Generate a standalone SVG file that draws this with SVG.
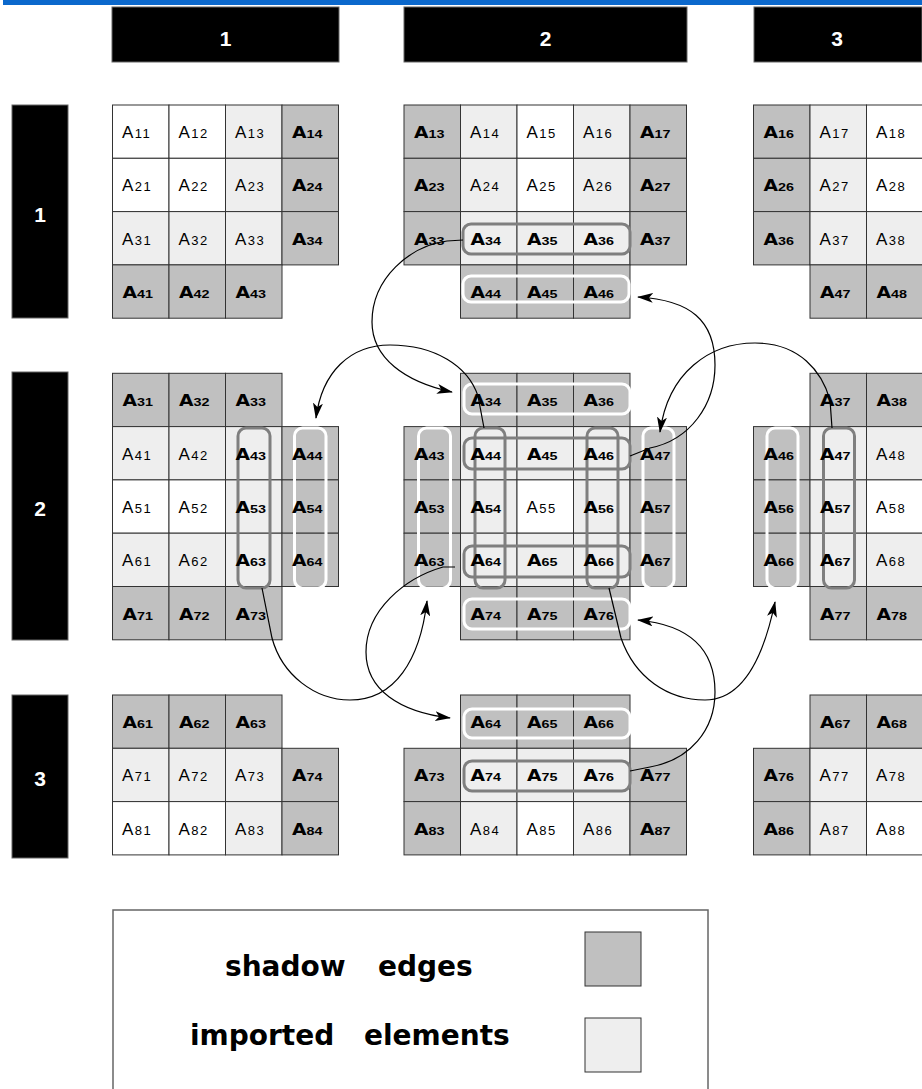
<svg xmlns="http://www.w3.org/2000/svg" width="922" height="1089" viewBox="0 0 922 1089">
<style>
.c{stroke:#333;stroke-width:1}
.d{fill:#c0c0c0}
.l{fill:#eeeeee}
.w{fill:#ffffff}
.t{font-family:"Liberation Sans",Arial,sans-serif;font-size:17px;letter-spacing:1.5px;fill:#000}
.t tspan{font-size:13px}
.b{font-family:"DejaVu Sans",sans-serif;font-weight:bold;font-size:15px;fill:#000}
.b tspan{font-family:"Liberation Sans",Arial,sans-serif;font-size:11.5px;font-weight:bold}
.rr{fill:none;stroke-width:3}
.g{stroke:#7f7f7f}
.wh{stroke:#ffffff}
.hdr{fill:#000;stroke:#666;stroke-width:1}
.hl{font-family:"Liberation Sans",Arial,sans-serif;font-weight:bold;font-size:21px;fill:#fff;text-anchor:middle}
.conn path{fill:none;stroke:#000;stroke-width:1.2;marker-end:url(#ah)}
.lg{font-family:"DejaVu Sans",sans-serif;font-weight:bold;font-size:28px;fill:#000}
</style>
<defs>
<marker id="ah" viewBox="0 0 16 10" refX="15" refY="5" markerWidth="16" markerHeight="10" orient="auto" markerUnits="userSpaceOnUse">
<path d="M0,0 L16,5 L0,10 L4,5 z" fill="#000"/>
</marker>
</defs>
<rect x="3" y="0" width="919" height="5" fill="#0b68cc"/>
<g id="col-headers">
<rect class="hdr" x="112" y="7" width="227" height="55"/><text class="hl" x="225.5" y="46">1</text>
<rect class="hdr" x="404" y="7" width="283" height="55"/><text class="hl" x="545.5" y="46">2</text>
<rect class="hdr" x="754" y="7" width="168" height="55"/><text class="hl" x="837" y="46">3</text>
</g>
<g id="row-headers">
<rect class="hdr" x="12" y="105" width="56" height="213"/><text class="hl" x="40" y="222">1</text>
<rect class="hdr" x="12" y="372" width="56" height="268"/><text class="hl" x="40" y="516">2</text>
<rect class="hdr" x="12" y="695" width="56" height="163"/><text class="hl" x="40" y="786">3</text>
</g>

<g id="block-1-1">
<rect class="c w" x="112.5" y="105" width="56.5" height="53.3"/>
<rect class="c w" x="169" y="105" width="56.5" height="53.3"/>
<rect class="c l" x="225.5" y="105" width="56.5" height="53.3"/>
<rect class="c d" x="282" y="105" width="56.5" height="53.3"/>
<rect class="c w" x="112.5" y="158.3" width="56.5" height="53.3"/>
<rect class="c w" x="169" y="158.3" width="56.5" height="53.3"/>
<rect class="c l" x="225.5" y="158.3" width="56.5" height="53.3"/>
<rect class="c d" x="282" y="158.3" width="56.5" height="53.3"/>
<rect class="c l" x="112.5" y="211.6" width="56.5" height="53.3"/>
<rect class="c l" x="169" y="211.6" width="56.5" height="53.3"/>
<rect class="c l" x="225.5" y="211.6" width="56.5" height="53.3"/>
<rect class="c d" x="282" y="211.6" width="56.5" height="53.3"/>
<rect class="c d" x="112.5" y="264.9" width="56.5" height="53.3"/>
<rect class="c d" x="169" y="264.9" width="56.5" height="53.3"/>
<rect class="c d" x="225.5" y="264.9" width="56.5" height="53.3"/>
<text class="t" x="122" y="138">A<tspan>11</tspan></text>
<text class="t" x="178.5" y="138">A<tspan>12</tspan></text>
<text class="t" x="235" y="138">A<tspan>13</tspan></text>
<text class="b" transform="translate(292 138) scale(1.25 1)">A<tspan>14</tspan></text>
<text class="t" x="122" y="191.3">A<tspan>21</tspan></text>
<text class="t" x="178.5" y="191.3">A<tspan>22</tspan></text>
<text class="t" x="235" y="191.3">A<tspan>23</tspan></text>
<text class="b" transform="translate(292 191.3) scale(1.25 1)">A<tspan>24</tspan></text>
<text class="t" x="122" y="244.6">A<tspan>31</tspan></text>
<text class="t" x="178.5" y="244.6">A<tspan>32</tspan></text>
<text class="t" x="235" y="244.6">A<tspan>33</tspan></text>
<text class="b" transform="translate(292 244.6) scale(1.25 1)">A<tspan>34</tspan></text>
<text class="b" transform="translate(122.5 297.9) scale(1.25 1)">A<tspan>41</tspan></text>
<text class="b" transform="translate(179 297.9) scale(1.25 1)">A<tspan>42</tspan></text>
<text class="b" transform="translate(235.5 297.9) scale(1.25 1)">A<tspan>43</tspan></text>
</g>

<g id="block-1-2">
<rect class="c d" x="404" y="105" width="56.5" height="53.3"/>
<rect class="c l" x="460.5" y="105" width="56.5" height="53.3"/>
<rect class="c w" x="517" y="105" width="56.5" height="53.3"/>
<rect class="c l" x="573.5" y="105" width="56.5" height="53.3"/>
<rect class="c d" x="630" y="105" width="56.5" height="53.3"/>
<rect class="c d" x="404" y="158.3" width="56.5" height="53.3"/>
<rect class="c l" x="460.5" y="158.3" width="56.5" height="53.3"/>
<rect class="c w" x="517" y="158.3" width="56.5" height="53.3"/>
<rect class="c l" x="573.5" y="158.3" width="56.5" height="53.3"/>
<rect class="c d" x="630" y="158.3" width="56.5" height="53.3"/>
<rect class="c d" x="404" y="211.6" width="56.5" height="53.3"/>
<rect class="c l" x="460.5" y="211.6" width="56.5" height="53.3"/>
<rect class="c l" x="517" y="211.6" width="56.5" height="53.3"/>
<rect class="c l" x="573.5" y="211.6" width="56.5" height="53.3"/>
<rect class="c d" x="630" y="211.6" width="56.5" height="53.3"/>
<rect class="c d" x="460.5" y="264.9" width="56.5" height="53.3"/>
<rect class="c d" x="517" y="264.9" width="56.5" height="53.3"/>
<rect class="c d" x="573.5" y="264.9" width="56.5" height="53.3"/>
<rect class="rr g" x="463" y="224" width="167" height="30" rx="8"/>
<rect class="rr wh" x="463" y="276" width="166" height="26" rx="8"/>
<text class="b" transform="translate(414 138) scale(1.25 1)">A<tspan>13</tspan></text>
<text class="t" x="470" y="138">A<tspan>14</tspan></text>
<text class="t" x="526.5" y="138">A<tspan>15</tspan></text>
<text class="t" x="583" y="138">A<tspan>16</tspan></text>
<text class="b" transform="translate(640 138) scale(1.25 1)">A<tspan>17</tspan></text>
<text class="b" transform="translate(414 191.3) scale(1.25 1)">A<tspan>23</tspan></text>
<text class="t" x="470" y="191.3">A<tspan>24</tspan></text>
<text class="t" x="526.5" y="191.3">A<tspan>25</tspan></text>
<text class="t" x="583" y="191.3">A<tspan>26</tspan></text>
<text class="b" transform="translate(640 191.3) scale(1.25 1)">A<tspan>27</tspan></text>
<text class="b" transform="translate(414 244.6) scale(1.25 1)">A<tspan>33</tspan></text>
<text class="b" transform="translate(470.5 244.6) scale(1.25 1)">A<tspan>34</tspan></text>
<text class="b" transform="translate(527 244.6) scale(1.25 1)">A<tspan>35</tspan></text>
<text class="b" transform="translate(583.5 244.6) scale(1.25 1)">A<tspan>36</tspan></text>
<text class="b" transform="translate(640 244.6) scale(1.25 1)">A<tspan>37</tspan></text>
<text class="b" transform="translate(470.5 297.9) scale(1.25 1)">A<tspan>44</tspan></text>
<text class="b" transform="translate(527 297.9) scale(1.25 1)">A<tspan>45</tspan></text>
<text class="b" transform="translate(583.5 297.9) scale(1.25 1)">A<tspan>46</tspan></text>
</g>

<g id="block-1-3">
<rect class="c d" x="753.5" y="105" width="56.5" height="53.3"/>
<rect class="c l" x="810" y="105" width="56.5" height="53.3"/>
<rect class="c w" x="866.5" y="105" width="56.5" height="53.3"/>
<rect class="c d" x="753.5" y="158.3" width="56.5" height="53.3"/>
<rect class="c l" x="810" y="158.3" width="56.5" height="53.3"/>
<rect class="c w" x="866.5" y="158.3" width="56.5" height="53.3"/>
<rect class="c d" x="753.5" y="211.6" width="56.5" height="53.3"/>
<rect class="c l" x="810" y="211.6" width="56.5" height="53.3"/>
<rect class="c l" x="866.5" y="211.6" width="56.5" height="53.3"/>
<rect class="c d" x="810" y="264.9" width="56.5" height="53.3"/>
<rect class="c d" x="866.5" y="264.9" width="56.5" height="53.3"/>
<text class="b" transform="translate(763.5 138) scale(1.25 1)">A<tspan>16</tspan></text>
<text class="t" x="819.5" y="138">A<tspan>17</tspan></text>
<text class="t" x="876" y="138">A<tspan>18</tspan></text>
<text class="b" transform="translate(763.5 191.3) scale(1.25 1)">A<tspan>26</tspan></text>
<text class="t" x="819.5" y="191.3">A<tspan>27</tspan></text>
<text class="t" x="876" y="191.3">A<tspan>28</tspan></text>
<text class="b" transform="translate(763.5 244.6) scale(1.25 1)">A<tspan>36</tspan></text>
<text class="t" x="819.5" y="244.6">A<tspan>37</tspan></text>
<text class="t" x="876" y="244.6">A<tspan>38</tspan></text>
<text class="b" transform="translate(820 297.9) scale(1.25 1)">A<tspan>47</tspan></text>
<text class="b" transform="translate(876.5 297.9) scale(1.25 1)">A<tspan>48</tspan></text>
</g>

<g id="block-2-1">
<rect class="c d" x="112.5" y="373.3" width="56.5" height="53.3"/>
<rect class="c d" x="169" y="373.3" width="56.5" height="53.3"/>
<rect class="c d" x="225.5" y="373.3" width="56.5" height="53.3"/>
<rect class="c l" x="112.5" y="426.6" width="56.5" height="53.3"/>
<rect class="c l" x="169" y="426.6" width="56.5" height="53.3"/>
<rect class="c l" x="225.5" y="426.6" width="56.5" height="53.3"/>
<rect class="c d" x="282" y="426.6" width="56.5" height="53.3"/>
<rect class="c w" x="112.5" y="479.9" width="56.5" height="53.3"/>
<rect class="c w" x="169" y="479.9" width="56.5" height="53.3"/>
<rect class="c l" x="225.5" y="479.9" width="56.5" height="53.3"/>
<rect class="c d" x="282" y="479.9" width="56.5" height="53.3"/>
<rect class="c l" x="112.5" y="533.2" width="56.5" height="53.3"/>
<rect class="c l" x="169" y="533.2" width="56.5" height="53.3"/>
<rect class="c l" x="225.5" y="533.2" width="56.5" height="53.3"/>
<rect class="c d" x="282" y="533.2" width="56.5" height="53.3"/>
<rect class="c d" x="112.5" y="586.5" width="56.5" height="53.3"/>
<rect class="c d" x="169" y="586.5" width="56.5" height="53.3"/>
<rect class="c d" x="225.5" y="586.5" width="56.5" height="53.3"/>
<rect class="rr g" x="238" y="428" width="32" height="160" rx="8"/>
<rect class="rr wh" x="294.5" y="428" width="31.5" height="160" rx="8"/>
<text class="b" transform="translate(122.5 406.3) scale(1.25 1)">A<tspan>31</tspan></text>
<text class="b" transform="translate(179 406.3) scale(1.25 1)">A<tspan>32</tspan></text>
<text class="b" transform="translate(235.5 406.3) scale(1.25 1)">A<tspan>33</tspan></text>
<text class="t" x="122" y="459.6">A<tspan>41</tspan></text>
<text class="t" x="178.5" y="459.6">A<tspan>42</tspan></text>
<text class="b" transform="translate(235.5 459.6) scale(1.25 1)">A<tspan>43</tspan></text>
<text class="b" transform="translate(292 459.6) scale(1.25 1)">A<tspan>44</tspan></text>
<text class="t" x="122" y="512.9">A<tspan>51</tspan></text>
<text class="t" x="178.5" y="512.9">A<tspan>52</tspan></text>
<text class="b" transform="translate(235.5 512.9) scale(1.25 1)">A<tspan>53</tspan></text>
<text class="b" transform="translate(292 512.9) scale(1.25 1)">A<tspan>54</tspan></text>
<text class="t" x="122" y="566.2">A<tspan>61</tspan></text>
<text class="t" x="178.5" y="566.2">A<tspan>62</tspan></text>
<text class="b" transform="translate(235.5 566.2) scale(1.25 1)">A<tspan>63</tspan></text>
<text class="b" transform="translate(292 566.2) scale(1.25 1)">A<tspan>64</tspan></text>
<text class="b" transform="translate(122.5 619.5) scale(1.25 1)">A<tspan>71</tspan></text>
<text class="b" transform="translate(179 619.5) scale(1.25 1)">A<tspan>72</tspan></text>
<text class="b" transform="translate(235.5 619.5) scale(1.25 1)">A<tspan>73</tspan></text>
</g>

<g id="block-2-2">
<rect class="c d" x="460.5" y="373.3" width="56.5" height="53.3"/>
<rect class="c d" x="517" y="373.3" width="56.5" height="53.3"/>
<rect class="c d" x="573.5" y="373.3" width="56.5" height="53.3"/>
<rect class="c d" x="404" y="426.6" width="56.5" height="53.3"/>
<rect class="c l" x="460.5" y="426.6" width="56.5" height="53.3"/>
<rect class="c l" x="517" y="426.6" width="56.5" height="53.3"/>
<rect class="c l" x="573.5" y="426.6" width="56.5" height="53.3"/>
<rect class="c d" x="630" y="426.6" width="56.5" height="53.3"/>
<rect class="c d" x="404" y="479.9" width="56.5" height="53.3"/>
<rect class="c l" x="460.5" y="479.9" width="56.5" height="53.3"/>
<rect class="c w" x="517" y="479.9" width="56.5" height="53.3"/>
<rect class="c l" x="573.5" y="479.9" width="56.5" height="53.3"/>
<rect class="c d" x="630" y="479.9" width="56.5" height="53.3"/>
<rect class="c d" x="404" y="533.2" width="56.5" height="53.3"/>
<rect class="c l" x="460.5" y="533.2" width="56.5" height="53.3"/>
<rect class="c l" x="517" y="533.2" width="56.5" height="53.3"/>
<rect class="c l" x="573.5" y="533.2" width="56.5" height="53.3"/>
<rect class="c d" x="630" y="533.2" width="56.5" height="53.3"/>
<rect class="c d" x="460.5" y="586.5" width="56.5" height="53.3"/>
<rect class="c d" x="517" y="586.5" width="56.5" height="53.3"/>
<rect class="c d" x="573.5" y="586.5" width="56.5" height="53.3"/>
<rect class="rr wh" x="464" y="384" width="166" height="30" rx="8"/>
<rect class="rr wh" x="464" y="599" width="166" height="30" rx="8"/>
<rect class="rr wh" x="418.5" y="428" width="32" height="160" rx="8"/>
<rect class="rr wh" x="643" y="428" width="31" height="160" rx="8"/>
<rect class="rr g" x="464" y="438" width="166" height="31" rx="8"/>
<rect class="rr g" x="464" y="546" width="166" height="31" rx="8"/>
<rect class="rr g" x="475" y="428" width="30" height="160" rx="8"/>
<rect class="rr g" x="587" y="428" width="31" height="160" rx="8"/>
<text class="b" transform="translate(470.5 406.3) scale(1.25 1)">A<tspan>34</tspan></text>
<text class="b" transform="translate(527 406.3) scale(1.25 1)">A<tspan>35</tspan></text>
<text class="b" transform="translate(583.5 406.3) scale(1.25 1)">A<tspan>36</tspan></text>
<text class="b" transform="translate(414 459.6) scale(1.25 1)">A<tspan>43</tspan></text>
<text class="b" transform="translate(470.5 459.6) scale(1.25 1)">A<tspan>44</tspan></text>
<text class="b" transform="translate(527 459.6) scale(1.25 1)">A<tspan>45</tspan></text>
<text class="b" transform="translate(583.5 459.6) scale(1.25 1)">A<tspan>46</tspan></text>
<text class="b" transform="translate(640 459.6) scale(1.25 1)">A<tspan>47</tspan></text>
<text class="b" transform="translate(414 512.9) scale(1.25 1)">A<tspan>53</tspan></text>
<text class="b" transform="translate(470.5 512.9) scale(1.25 1)">A<tspan>54</tspan></text>
<text class="t" x="526.5" y="512.9">A<tspan>55</tspan></text>
<text class="b" transform="translate(583.5 512.9) scale(1.25 1)">A<tspan>56</tspan></text>
<text class="b" transform="translate(640 512.9) scale(1.25 1)">A<tspan>57</tspan></text>
<text class="b" transform="translate(414 566.2) scale(1.25 1)">A<tspan>63</tspan></text>
<text class="b" transform="translate(470.5 566.2) scale(1.25 1)">A<tspan>64</tspan></text>
<text class="b" transform="translate(527 566.2) scale(1.25 1)">A<tspan>65</tspan></text>
<text class="b" transform="translate(583.5 566.2) scale(1.25 1)">A<tspan>66</tspan></text>
<text class="b" transform="translate(640 566.2) scale(1.25 1)">A<tspan>67</tspan></text>
<text class="b" transform="translate(470.5 619.5) scale(1.25 1)">A<tspan>74</tspan></text>
<text class="b" transform="translate(527 619.5) scale(1.25 1)">A<tspan>75</tspan></text>
<text class="b" transform="translate(583.5 619.5) scale(1.25 1)">A<tspan>76</tspan></text>
</g>

<g id="block-2-3">
<rect class="c d" x="810" y="373.3" width="56.5" height="53.3"/>
<rect class="c d" x="866.5" y="373.3" width="56.5" height="53.3"/>
<rect class="c d" x="753.5" y="426.6" width="56.5" height="53.3"/>
<rect class="c l" x="810" y="426.6" width="56.5" height="53.3"/>
<rect class="c l" x="866.5" y="426.6" width="56.5" height="53.3"/>
<rect class="c d" x="753.5" y="479.9" width="56.5" height="53.3"/>
<rect class="c l" x="810" y="479.9" width="56.5" height="53.3"/>
<rect class="c w" x="866.5" y="479.9" width="56.5" height="53.3"/>
<rect class="c d" x="753.5" y="533.2" width="56.5" height="53.3"/>
<rect class="c l" x="810" y="533.2" width="56.5" height="53.3"/>
<rect class="c l" x="866.5" y="533.2" width="56.5" height="53.3"/>
<rect class="c d" x="810" y="586.5" width="56.5" height="53.3"/>
<rect class="c d" x="866.5" y="586.5" width="56.5" height="53.3"/>
<rect class="rr wh" x="767" y="428" width="31" height="160" rx="8"/>
<rect class="rr g" x="823.5" y="428" width="31" height="160" rx="8"/>
<text class="b" transform="translate(820 406.3) scale(1.25 1)">A<tspan>37</tspan></text>
<text class="b" transform="translate(876.5 406.3) scale(1.25 1)">A<tspan>38</tspan></text>
<text class="b" transform="translate(763.5 459.6) scale(1.25 1)">A<tspan>46</tspan></text>
<text class="b" transform="translate(820 459.6) scale(1.25 1)">A<tspan>47</tspan></text>
<text class="t" x="876" y="459.6">A<tspan>48</tspan></text>
<text class="b" transform="translate(763.5 512.9) scale(1.25 1)">A<tspan>56</tspan></text>
<text class="b" transform="translate(820 512.9) scale(1.25 1)">A<tspan>57</tspan></text>
<text class="t" x="876" y="512.9">A<tspan>58</tspan></text>
<text class="b" transform="translate(763.5 566.2) scale(1.25 1)">A<tspan>66</tspan></text>
<text class="b" transform="translate(820 566.2) scale(1.25 1)">A<tspan>67</tspan></text>
<text class="t" x="876" y="566.2">A<tspan>68</tspan></text>
<text class="b" transform="translate(820 619.5) scale(1.25 1)">A<tspan>77</tspan></text>
<text class="b" transform="translate(876.5 619.5) scale(1.25 1)">A<tspan>78</tspan></text>
</g>

<g id="block-3-1">
<rect class="c d" x="112.5" y="695" width="56.5" height="53.3"/>
<rect class="c d" x="169" y="695" width="56.5" height="53.3"/>
<rect class="c d" x="225.5" y="695" width="56.5" height="53.3"/>
<rect class="c l" x="112.5" y="748.3" width="56.5" height="53.3"/>
<rect class="c l" x="169" y="748.3" width="56.5" height="53.3"/>
<rect class="c l" x="225.5" y="748.3" width="56.5" height="53.3"/>
<rect class="c d" x="282" y="748.3" width="56.5" height="53.3"/>
<rect class="c w" x="112.5" y="801.6" width="56.5" height="53.3"/>
<rect class="c w" x="169" y="801.6" width="56.5" height="53.3"/>
<rect class="c l" x="225.5" y="801.6" width="56.5" height="53.3"/>
<rect class="c d" x="282" y="801.6" width="56.5" height="53.3"/>
<text class="b" transform="translate(122.5 728) scale(1.25 1)">A<tspan>61</tspan></text>
<text class="b" transform="translate(179 728) scale(1.25 1)">A<tspan>62</tspan></text>
<text class="b" transform="translate(235.5 728) scale(1.25 1)">A<tspan>63</tspan></text>
<text class="t" x="122" y="781.3">A<tspan>71</tspan></text>
<text class="t" x="178.5" y="781.3">A<tspan>72</tspan></text>
<text class="t" x="235" y="781.3">A<tspan>73</tspan></text>
<text class="b" transform="translate(292 781.3) scale(1.25 1)">A<tspan>74</tspan></text>
<text class="t" x="122" y="834.6">A<tspan>81</tspan></text>
<text class="t" x="178.5" y="834.6">A<tspan>82</tspan></text>
<text class="t" x="235" y="834.6">A<tspan>83</tspan></text>
<text class="b" transform="translate(292 834.6) scale(1.25 1)">A<tspan>84</tspan></text>
</g>

<g id="block-3-2">
<rect class="c d" x="460.5" y="695" width="56.5" height="53.3"/>
<rect class="c d" x="517" y="695" width="56.5" height="53.3"/>
<rect class="c d" x="573.5" y="695" width="56.5" height="53.3"/>
<rect class="c d" x="404" y="748.3" width="56.5" height="53.3"/>
<rect class="c l" x="460.5" y="748.3" width="56.5" height="53.3"/>
<rect class="c l" x="517" y="748.3" width="56.5" height="53.3"/>
<rect class="c l" x="573.5" y="748.3" width="56.5" height="53.3"/>
<rect class="c d" x="630" y="748.3" width="56.5" height="53.3"/>
<rect class="c d" x="404" y="801.6" width="56.5" height="53.3"/>
<rect class="c l" x="460.5" y="801.6" width="56.5" height="53.3"/>
<rect class="c w" x="517" y="801.6" width="56.5" height="53.3"/>
<rect class="c l" x="573.5" y="801.6" width="56.5" height="53.3"/>
<rect class="c d" x="630" y="801.6" width="56.5" height="53.3"/>
<rect class="rr wh" x="464" y="709" width="166" height="29" rx="8"/>
<rect class="rr g" x="464" y="761" width="166" height="30" rx="8"/>
<text class="b" transform="translate(470.5 728) scale(1.25 1)">A<tspan>64</tspan></text>
<text class="b" transform="translate(527 728) scale(1.25 1)">A<tspan>65</tspan></text>
<text class="b" transform="translate(583.5 728) scale(1.25 1)">A<tspan>66</tspan></text>
<text class="b" transform="translate(414 781.3) scale(1.25 1)">A<tspan>73</tspan></text>
<text class="b" transform="translate(470.5 781.3) scale(1.25 1)">A<tspan>74</tspan></text>
<text class="b" transform="translate(527 781.3) scale(1.25 1)">A<tspan>75</tspan></text>
<text class="b" transform="translate(583.5 781.3) scale(1.25 1)">A<tspan>76</tspan></text>
<text class="b" transform="translate(640 781.3) scale(1.25 1)">A<tspan>77</tspan></text>
<text class="b" transform="translate(414 834.6) scale(1.25 1)">A<tspan>83</tspan></text>
<text class="t" x="470" y="834.6">A<tspan>84</tspan></text>
<text class="t" x="526.5" y="834.6">A<tspan>85</tspan></text>
<text class="t" x="583" y="834.6">A<tspan>86</tspan></text>
<text class="b" transform="translate(640 834.6) scale(1.25 1)">A<tspan>87</tspan></text>
</g>

<g id="block-3-3">
<rect class="c d" x="810" y="695" width="56.5" height="53.3"/>
<rect class="c d" x="866.5" y="695" width="56.5" height="53.3"/>
<rect class="c d" x="753.5" y="748.3" width="56.5" height="53.3"/>
<rect class="c l" x="810" y="748.3" width="56.5" height="53.3"/>
<rect class="c l" x="866.5" y="748.3" width="56.5" height="53.3"/>
<rect class="c d" x="753.5" y="801.6" width="56.5" height="53.3"/>
<rect class="c l" x="810" y="801.6" width="56.5" height="53.3"/>
<rect class="c w" x="866.5" y="801.6" width="56.5" height="53.3"/>
<text class="b" transform="translate(820 728) scale(1.25 1)">A<tspan>67</tspan></text>
<text class="b" transform="translate(876.5 728) scale(1.25 1)">A<tspan>68</tspan></text>
<text class="b" transform="translate(763.5 781.3) scale(1.25 1)">A<tspan>76</tspan></text>
<text class="t" x="819.5" y="781.3">A<tspan>77</tspan></text>
<text class="t" x="876" y="781.3">A<tspan>78</tspan></text>
<text class="b" transform="translate(763.5 834.6) scale(1.25 1)">A<tspan>86</tspan></text>
<text class="t" x="819.5" y="834.6">A<tspan>87</tspan></text>
<text class="t" x="876" y="834.6">A<tspan>88</tspan></text>
</g>

<g id="connectors" class="conn">
<path d="M463,240 L447,241 C410,246 372,278 372,322 C372,358 405,382 452,392"/>
<path d="M484,428 L478,396 C468,366 435,345 390,345 C350,345 322,372 316,418"/>
<path d="M630,456 L650,448 C690,440 715,405 715,365 C715,320 690,300 638,297"/>
<path d="M832,428 L830,400 C822,372 800,343 755,343 C710,343 668,372 660,432"/>
<path d="M262,588 L272,638 C282,675 315,700 350,700 C395,700 420,660 427,601"/>
<path d="M455,567 L443,567 C405,578 366,610 366,652 C366,690 400,712 450,718"/>
<path d="M609,588 L621,638 C635,678 668,700 705,700 C740,700 762,665 775,602"/>
<path d="M630,771 L650,767 C690,760 715,730 715,692 C715,650 690,625 638,620"/>
</g>

<g id="legend">
<rect x="113" y="910" width="595" height="200" fill="#fff" stroke="#666" stroke-width="1.5"/>
<text class="lg" y="976"><tspan x="225">shadow</tspan><tspan x="378">edges</tspan></text>
<text class="lg" y="1045"><tspan x="190">imported</tspan><tspan x="364">elements</tspan></text>
<rect x="585" y="932" width="56" height="54" fill="#c0c0c0" stroke="#333"/>
<rect x="585" y="1018" width="56" height="54" fill="#eeeeee" stroke="#333"/>
</g>
</svg>
